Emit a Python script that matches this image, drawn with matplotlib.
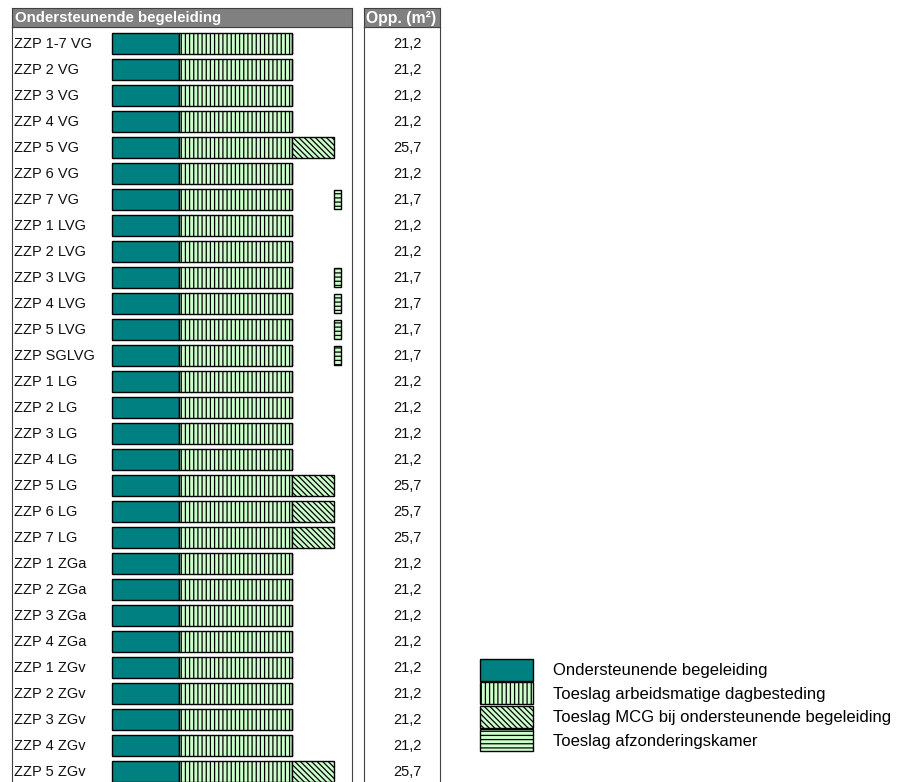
import matplotlib
matplotlib.use("Agg")
import matplotlib.pyplot as plt
from matplotlib.patches import Patch

plt.rcParams["font.family"] = ["Liberation Sans", "DejaVu Sans"]
plt.rcParams["hatch.linewidth"] = 0.9
plt.rcParams["hatch.color"] = "black"

categories = ["ZZP 1-7 VG", "ZZP 2 VG", "ZZP 3 VG", "ZZP 4 VG", "ZZP 5 VG", "ZZP 6 VG",
              "ZZP 7 VG", "ZZP 1 LVG", "ZZP 2 LVG", "ZZP 3 LVG", "ZZP 4 LVG", "ZZP 5 LVG",
              "ZZP SGLVG", "ZZP 1 LG", "ZZP 2 LG", "ZZP 3 LG", "ZZP 4 LG", "ZZP 5 LG",
              "ZZP 6 LG", "ZZP 7 LG", "ZZP 1 ZGa", "ZZP 2 ZGa", "ZZP 3 ZGa", "ZZP 4 ZGa",
              "ZZP 1 ZGv", "ZZP 2 ZGv", "ZZP 3 ZGv", "ZZP 4 ZGv", "ZZP 5 ZGv"]
opp = ["21,2", "21,2", "21,2", "21,2", "25,7", "21,2", "21,7", "21,2", "21,2", "21,7",
       "21,7", "21,7", "21,7", "21,2", "21,2", "21,2", "21,2", "25,7", "25,7", "25,7",
       "21,2", "21,2", "21,2", "21,2", "21,2", "21,2", "21,2", "21,2", "25,7"]

n = len(categories)
begeleiding = [7.9] * n
dagbesteding = [13.3] * n
mcg = [4.9 if c in ("ZZP 5 VG", "ZZP 5 LG", "ZZP 6 LG", "ZZP 7 LG", "ZZP 5 ZGv") else 0 for c in categories]
afzondering = [0.9 if c in ("ZZP 7 VG", "ZZP 3 LVG", "ZZP 4 LVG", "ZZP 5 LVG", "ZZP SGLVG") else 0 for c in categories]
mcg_slot = 4.9

labels = ["Ondersteunende begeleiding", "Toeslag arbeidsmatige dagbesteding",
          "Toeslag MCG bij ondersteunende begeleiding", "Toeslag afzonderingskamer"]

teal = "#008080"
green = "#ccffcc"
frame = "#404040"

W, H = 901, 782


def px_rect(x0, y0, x1, y1):
    return [x0 / W, 1 - y1 / H, (x1 - x0) / W, (y1 - y0) / H]


fig = plt.figure(figsize=(W / 100, H / 100), dpi=100)

# row geometry (pixels)
row0 = 43.7
pitch = 26.0
top, bottom = 27, 792
scale = 180 / 21.2

ax = fig.add_axes(px_rect(12, top, 352, bottom))
ax.set_xlim(-100 / scale, 240 / scale)
ax.set_ylim((bottom - row0) / pitch, (top - row0) / pitch)
ax.set_xticks([])
ax.set_yticks([])
for s in ax.spines.values():
    s.set_color(frame)
    s.set_linewidth(0.8)

y = list(range(n))
h = 0.79
ax.barh(y, begeleiding, height=h, color=teal, edgecolor="black", linewidth=1.0)
left2 = begeleiding
ax.barh(y, dagbesteding, left=left2, height=h, color=green, edgecolor="black",
        linewidth=1.0, hatch="||||")
left3 = [a + b for a, b in zip(begeleiding, dagbesteding)]
ax.barh(y, mcg, left=left3, height=h, color=green, edgecolor="black",
        linewidth=1.0, hatch="\\\\\\\\\\\\")
left4 = [a + mcg_slot for a in left3]
for yi, w, l in zip(y, afzondering, left4):
    if w > 0:
        ax.barh(yi, w, left=l, height=0.74, color=green, edgecolor="black",
                linewidth=1.0, hatch="----")

tr = ax.get_yaxis_transform()
for yi, c in zip(y, categories):
    ax.text(0.006, yi, c, transform=tr, ha="left", va="center", fontsize=10.5, color="#111111")

# area column
ax2 = fig.add_axes(px_rect(364, top, 440, bottom))
ax2.set_xlim(0, 1)
ax2.set_ylim(ax.get_ylim())
ax2.set_xticks([])
ax2.set_yticks([])
for s in ax2.spines.values():
    s.set_color(frame)
    s.set_linewidth(0.8)
for yi, v in zip(y, opp):
    ax2.text(0.57, yi, v, ha="center", va="center", fontsize=10.5, color="#111111")

# headers
for (x0, x1, title, tx, fsz) in [(12, 352, "Ondersteunende begeleiding", 0.008, 10.8),
                                 (364, 440, "Opp. (m²)", 0.03, 11.3)]:
    hax = fig.add_axes(px_rect(x0, 8, x1, top))
    hax.set_facecolor("#808080")
    hax.set_xticks([])
    hax.set_yticks([])
    for s in hax.spines.values():
        s.set_color(frame)
        s.set_linewidth(0.8)
    hax.text(tx, 0.45, title, transform=hax.transAxes, ha="left", va="center",
             fontsize=fsz, fontweight="bold", color="white")

# legend
handles = [Patch(facecolor=teal, edgecolor="black", linewidth=1.0),
           Patch(facecolor=green, edgecolor="black", linewidth=1.0, hatch="||||"),
           Patch(facecolor=green, edgecolor="black", linewidth=1.0, hatch="\\\\\\\\\\\\"),
           Patch(facecolor=green, edgecolor="black", linewidth=1.0, hatch="----")]
fs = 12
fpx = fs * 100 / 72
fig.legend(handles, labels, loc="upper left", bbox_to_anchor=(480 / W, 1 - 659 / H),
           frameon=False, fontsize=fs, handlelength=53 / fpx, handleheight=1.65,
           handletextpad=20 / fpx, labelspacing=1.5 / fpx, borderpad=0, borderaxespad=0)

fig.savefig("out.png", dpi=100)
